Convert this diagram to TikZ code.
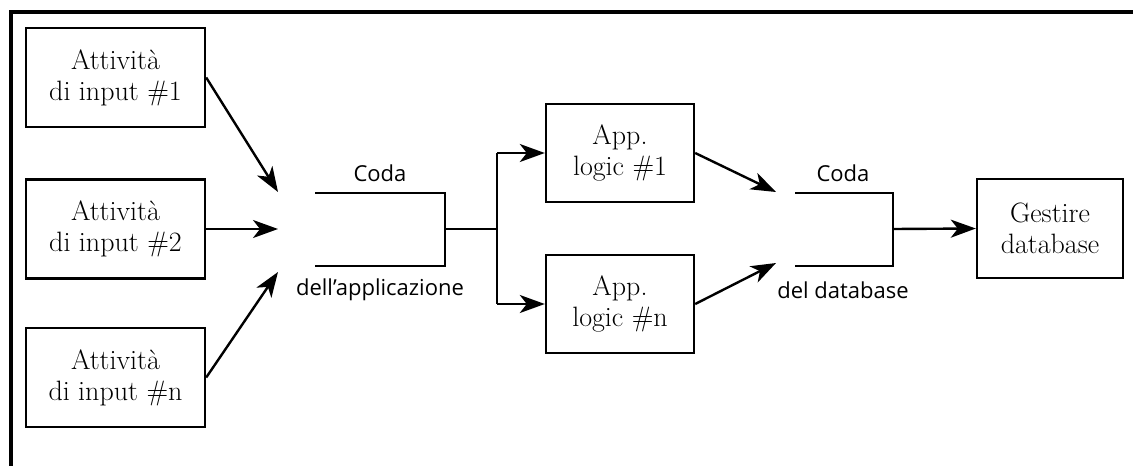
\documentclass[tikz,border=0pt]{standalone}
\usepackage{fontspec}
\newfontfamily\labelfont{Open Sans}
\usetikzlibrary{arrows.meta}
\begin{document}
\begin{tikzpicture}[x=1pt,y=-1pt,
  box/.style={draw,line width=2.4pt,align=center,inner sep=0pt,
    font=\fontsize{28}{31}\selectfont},
  inbox/.style={box,minimum width=179pt,minimum height=99pt},
  appbox/.style={box,minimum width=148pt,minimum height=98pt},
  lab/.style={font=\labelfont\fontsize{22}{26}\selectfont,inner sep=0pt},
  arr/.style={line width=2.4pt,-{Stealth[length=25pt,width=18pt,inset=7pt]}},
  ln/.style={line width=2.4pt}]
\useasboundingbox (0,0) rectangle (1133,466);
% frame
\draw[line width=4pt] (10.5,466) -- (10.5,12) -- (1133,12);
% input boxes
\node[inbox] (b1) at (115.5,77.5) {Attività\\di input \#1};
\node[inbox] (b2) at (115.5,229) {Attività\\di input \#2};
\node[inbox] (b3) at (115.5,377.5) {Attività\\di input \#n};
% queue 1
\coordinate (i1) at (278,192);
\coordinate (i2) at (278,229);
\coordinate (i3) at (278,272);
\coordinate (q1a) at (315,193);
\coordinate (q1b) at (445,193);
\coordinate (q1c) at (445,266);
\coordinate (q1d) at (315,266);
\coordinate (q1m) at (445,229);
\coordinate (s1) at (497,229);
\coordinate (s1t) at (497,153);
\coordinate (s1b) at (497,304);
\node[lab] (c1) at (380,173) {Coda};
\node[lab] (d1) at (380,290) {dell’applicazione};
\draw[arr] (b1.east) -- (i1);
\draw[arr] (b2.east) -- (i2);
\draw[arr] (b3.east) -- (i3);
\draw[ln] (q1a) -- (q1b) -- (q1c) -- (q1d);
\draw[ln] (q1m) -- (s1);
\draw[ln] (s1t) -- (s1b);
% app boxes
\node[appbox] (a1) at (620,153) {App.\\logic \#1};
\node[appbox] (an) at (620,304) {App.\\logic \#n};
\draw[arr] (s1t) -- (a1.west);
\draw[arr] (s1b) -- (an.west);
% queue 2
\coordinate (j1) at (776,192);
\coordinate (j2) at (776,263);
\coordinate (q2a) at (795,193);
\coordinate (q2b) at (893,193);
\coordinate (q2c) at (893,266);
\coordinate (q2d) at (795,266);
\coordinate (q2m) at (893,229);
\node[lab] (c2) at (843,173) {Coda};
\node[lab] (d2) at (843,290) {del database};
\draw[arr] (a1.east) -- (j1);
\draw[arr] (an.east) -- (j2);
\draw[ln] (q2a) -- (q2b) -- (q2c) -- (q2d);
% database box
\node[box,minimum width=146pt,minimum height=99pt] (g) at (1050,228.5) {Gestire\\database};
\draw[arr] (q2m) -- (g.west);
\end{tikzpicture}
\end{document}
